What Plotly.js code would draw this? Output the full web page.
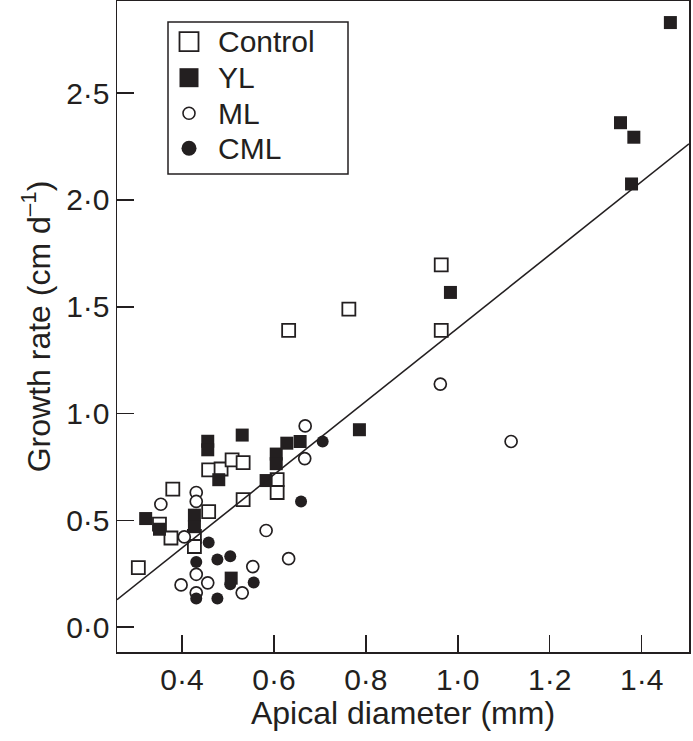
<!DOCTYPE html>
<html>
<head>
<meta charset="utf-8">
<script src="https://cdn.plot.ly/plotly-3.0.1.min.js"></script>
<style>
  html, body { margin: 0; padding: 0; background: #ffffff; }
  #chart { width: 693px; height: 741px; }
</style>
</head>
<body>
<div id="chart"></div>
<script>
// ---- Data ----
const controlX = [0.305, 0.380, 0.351, 0.376, 0.427, 0.427, 0.458, 0.458, 0.485, 0.509, 0.533, 0.533, 0.607, 0.607, 0.632, 0.763, 0.964, 0.964];
const controlY = [0.278, 0.646, 0.482, 0.417, 0.424, 0.377, 0.540, 0.736, 0.740, 0.783, 0.770, 0.597, 0.690, 0.630, 1.389, 1.489, 1.696, 1.389];

const ylX = [0.321, 0.351, 0.427, 0.427, 0.456, 0.456, 0.531, 0.480, 0.507, 0.583, 0.605, 0.605, 0.628, 0.657, 0.786, 0.984, 1.354, 1.383, 1.378, 1.4625];
const ylY = [0.508, 0.458, 0.524, 0.470, 0.870, 0.830, 0.899, 0.690, 0.229, 0.686, 0.810, 0.765, 0.861, 0.869, 0.924, 1.567, 2.362, 2.294, 2.075, 2.831];

const mlX = [0.668, 0.667, 0.354, 0.431, 0.431, 0.405, 0.583, 0.632, 0.554, 0.431, 0.456, 0.398, 0.531, 0.431, 0.962, 1.116];
const mlY = [0.942, 0.789, 0.575, 0.630, 0.588, 0.422, 0.452, 0.320, 0.283, 0.247, 0.207, 0.197, 0.160, 0.160, 1.138, 0.869];

const cmlX = [0.706, 0.659, 0.458, 0.431, 0.477, 0.505, 0.556, 0.431, 0.477, 0.505];
const cmlY = [0.869, 0.588, 0.396, 0.305, 0.316, 0.331, 0.209, 0.134, 0.134, 0.200];

const seriesNames = ["Control", "YL", "ML", "CML"];

// regression line (fitted across all groups)
const fitSlope = 1.716;
const fitIntercept = -0.316;

const xTickVals = [0.4, 0.6, 0.8, 1.0, 1.2, 1.4];
const xTickText = ["0·4", "0·6", "0·8", "1·0", "1·2", "1·4"];
const yTickVals = [0.0, 0.5, 1.0, 1.5, 2.0, 2.5];
const yTickText = ["0·0", "0·5", "1·0", "1·5", "2·0", "2·5"];

const xRange = [0.2586, 1.503];
const yRange = [-0.117, 2.932];

// ---- Styling ----
const ink = "#231f20";
const fontFam = "Liberation Sans, Arial, Helvetica, sans-serif";
const W = 693, H = 741;
const M = { l: 117, r: 4, t: 1, b: 89 };
const plotW = W - M.l - M.r, plotH = H - M.t - M.b;
const px2x = p => (p - M.l) / plotW;
const px2y = p => 1 - (p - M.t) / plotH;

const traces = [
  {
    x: controlX, y: controlY, name: seriesNames[0], type: "scatter", mode: "markers",
    marker: { symbol: "square", size: 13, color: "#ffffff", line: { color: ink, width: 1.8 } }
  },
  {
    x: ylX, y: ylY, name: seriesNames[1], type: "scatter", mode: "markers",
    marker: { symbol: "square", size: 13, color: ink, line: { color: ink, width: 0 } }
  },
  {
    x: mlX, y: mlY, name: seriesNames[2], type: "scatter", mode: "markers",
    marker: { symbol: "circle", size: 12, color: "#ffffff", line: { color: ink, width: 1.7 } }
  },
  {
    x: cmlX, y: cmlY, name: seriesNames[3], type: "scatter", mode: "markers",
    marker: { symbol: "circle", size: 12, color: ink, line: { color: ink, width: 0 } }
  },
  {
    x: xRange, y: xRange.map(v => fitSlope * v + fitIntercept),
    type: "scatter", mode: "lines", hoverinfo: "skip",
    line: { color: ink, width: 1.6 }
  }
];

// ---- Hand-built legend box (layout decoration) ----
const legBox = { x0: 168, x1: 348, y0: 22, y1: 174 };
const legSymX = 189, legTextX = 216;
const legRows = [41.7, 77.7, 113.3, 148.3];
const legSym = [
  { kind: "rect", size: 19, fill: "#ffffff", lw: 1.8 },
  { kind: "rect", size: 19, fill: ink, lw: 0 },
  { kind: "circle", size: 12, fill: "#ffffff", lw: 1.6 },
  { kind: "circle", size: 15, fill: ink, lw: 0 }
];

const shapes = [{
  type: "rect", xref: "paper", yref: "paper",
  x0: px2x(legBox.x0), x1: px2x(legBox.x1), y0: px2y(legBox.y1), y1: px2y(legBox.y0),
  fillcolor: "#ffffff", line: { color: ink, width: 1.5 }, layer: "above"
}];
const annotations = [];
seriesNames.forEach((nm, i) => {
  const s = legSym[i], h = s.size / 2, cy = legRows[i];
  shapes.push({
    type: s.kind, xref: "paper", yref: "paper",
    x0: px2x(legSymX - h), x1: px2x(legSymX + h), y0: px2y(cy + h), y1: px2y(cy - h),
    fillcolor: s.fill, line: { color: ink, width: s.lw }, layer: "above"
  });
  annotations.push({
    xref: "paper", yref: "paper", x: px2x(legTextX), y: px2y(cy),
    xanchor: "left", yanchor: "middle", showarrow: false, text: nm,
    font: { family: fontFam, size: 30, color: ink }
  });
});

const layout = {
  width: W, height: H,
  margin: M,
  paper_bgcolor: "#ffffff", plot_bgcolor: "#ffffff",
  font: { family: fontFam, color: ink, size: 30 },
  showlegend: false,
  shapes: shapes,
  annotations: annotations,
  xaxis: {
    range: xRange, tickvals: xTickVals, ticktext: xTickText,
    ticks: "inside", ticklen: 17, tickwidth: 1.5, tickcolor: ink,
    showline: true, linecolor: ink, linewidth: 1.5, mirror: true,
    showgrid: false, zeroline: false,
    tickfont: { family: fontFam, size: 30, color: ink },
    ticklabelstandoff: 0,
    title: { text: "Apical diameter (mm)", font: { family: fontFam, size: 32, color: ink }, standoff: 7 }
  },
  yaxis: {
    range: yRange, tickvals: yTickVals, ticktext: yTickText,
    ticks: "inside", ticklen: 17, tickwidth: 1.5, tickcolor: ink,
    showline: true, linecolor: ink, linewidth: 1.5, mirror: true,
    showgrid: false, zeroline: false,
    tickfont: { family: fontFam, size: 30, color: ink },
    ticklabelstandoff: 0,
    title: { text: "Growth rate (cm d<sup>–1</sup>)", font: { family: fontFam, size: 32, color: ink }, standoff: 6 }
  }
};

Plotly.newPlot("chart", traces, layout, { displayModeBar: false, staticPlot: true });
</script>
</body>
</html>
